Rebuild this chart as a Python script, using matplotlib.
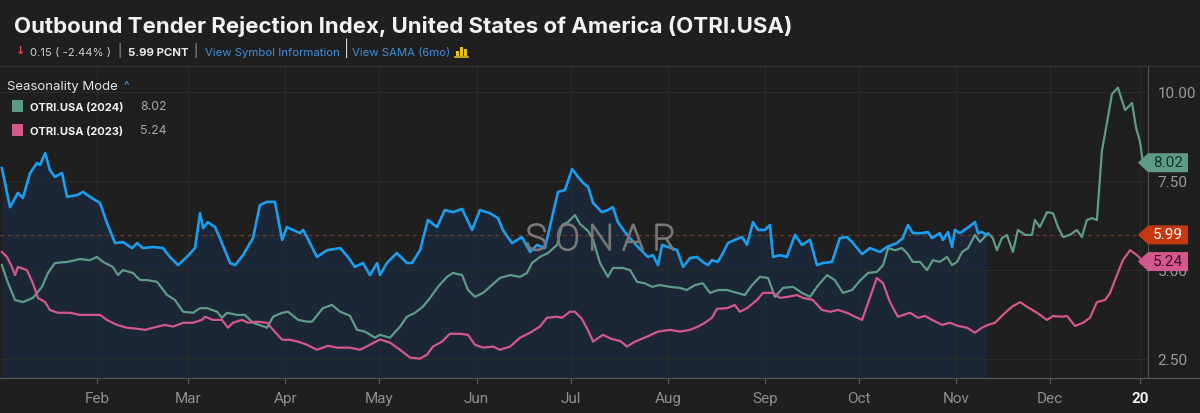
import matplotlib.pyplot as plt
import matplotlib.patheffects as pe
from matplotlib.patches import Polygon, Rectangle
from matplotlib.lines import Line2D
from matplotlib.transforms import IdentityTransform

plt.rcParams['font.family'] = ['Roboto', 'DejaVu Sans']

# day of year (0 = Jan 1) and index value
cur_days = [0.6, 3.2, 5.7, 7.3, 9.6, 11.8, 12.8, 14.4, 15.9, 17.5, 19.8, 21.4, 24.6, 26.5, 28.7,
            31.9, 34.1, 36.7, 39.2, 42.1, 43.7, 45.6, 48.8, 52.0, 54.2, 56.8, 59.6, 62.2, 63.8,
            64.8, 66.3, 68.6, 70.8, 73.4, 75.0, 77.5, 80.7, 82.9, 85.2, 87.7, 90.0, 91.5, 93.5,
            95.7, 96.7, 98.9, 101.1, 104.3, 108.5, 111.0, 113.2, 115.8, 118.0, 120.3, 121.2,
            123.4, 126.6, 129.8, 131.4, 134.0, 136.5, 139.4, 141.9, 144.5, 147.4, 150.6, 153.1,
            156.3, 158.9, 160.4, 163.3, 166.5, 169.1, 171.3, 173.8, 176.1, 178.0, 180.2, 182.5,
            184.4, 186.0, 187.6, 189.2, 192.0, 193.9, 195.5, 197.1, 200.0, 203.5, 206.7, 208.3,
            209.9, 211.2, 213.1, 216.0, 217.9, 220.1, 222.3, 224.2, 225.8, 227.1, 229.0, 230.6,
            232.2, 234.4, 236.7, 238.3, 240.2, 241.8, 244.0, 245.6, 246.6, 248.8, 251.0, 253.6,
            255.8, 258.4, 260.6, 262.5, 265.4, 267.9, 270.2, 272.1, 275.0, 277.5, 280.7, 282.9,
            286.1, 288.0, 289.6, 291.2, 294.1, 296.0, 297.3, 299.8, 300.8, 302.4, 303.7, 304.6,
            306.2, 308.5, 311.0, 312.0, 313.2, 314.8]
cur_vals = [7.87, 6.77, 7.17, 7.03, 7.73, 8.01, 7.96, 8.29, 7.82, 7.62, 7.73, 7.06, 7.11, 7.2, 7.06,
            6.89, 6.33, 5.76, 5.79, 5.62, 5.76, 5.62, 5.65, 5.62, 5.37, 5.14, 5.37, 5.62, 6.6,
            6.18, 6.35, 6.21, 5.76, 5.2, 5.14, 5.42, 5.9, 6.83, 6.92, 6.92, 5.85, 6.21, 6.13,
            6.04, 6.13, 5.76, 5.37, 5.56, 5.62, 5.37, 5.09, 5.2, 4.86, 5.2, 4.86,
            5.2, 5.48, 5.2, 5.2, 5.56, 6.41, 6.21, 6.69, 6.63, 6.72, 6.13, 6.69,
            6.6, 6.46, 6.13, 5.76, 5.93, 5.51, 5.71, 5.62, 6.49, 7.2, 7.25, 7.84,
            7.62, 7.45, 7.34, 6.89, 6.63, 6.69, 6.77, 6.35, 5.99, 5.65, 5.37, 5.42,
            5.14, 5.71, 5.65, 5.56, 5.09, 5.34, 5.37, 5.23, 5.14, 5.28, 5.23, 5.48,
            5.76, 5.85, 5.93, 5.71, 6.35, 6.13, 6.13, 6.27, 5.37, 5.42, 5.37, 5.99,
            5.71, 5.85, 5.14, 5.2, 5.23, 5.9, 5.93, 5.76, 5.45, 5.62, 5.51, 5.65,
            5.76, 5.9, 6.27, 6.04, 6.04, 6.07, 5.9, 6.04, 5.85, 6.07, 5.65, 6.13,
            6.04, 6.18, 6.35, 6.04, 6.07, 5.99]

y2024_days = [0.6, 2.6, 4.8, 7.3, 10.5, 13.4, 15.3, 17.5, 21.4, 25.5, 28.7, 30.9, 32.9, 36.0, 37.6,
              39.2, 42.4, 44.7, 46.9, 50.1, 53.3, 55.8, 58.4, 61.6, 63.8, 66.0, 69.2, 70.8, 72.4,
              75.6, 78.1, 80.7, 85.2, 87.1, 90.0, 91.9, 95.1, 97.9, 99.5, 103.0, 105.9, 108.5,
              111.6, 113.9, 116.4, 119.6, 121.2, 124.4, 127.6, 129.8, 132.4, 134.9, 137.2, 139.7,
              142.6, 144.5, 147.4, 149.3, 151.5, 154.1, 156.9, 159.5, 162.7, 165.9, 168.1, 169.7,
              172.2, 174.8, 177.7, 179.3, 181.2, 183.4, 185.0, 187.6, 189.2, 191.4, 193.9, 195.5,
              198.7, 201.0, 203.2, 205.7, 208.0, 210.5, 213.7, 216.9, 219.1, 221.7, 224.2, 226.5,
              229.0, 231.9, 235.1, 237.6, 239.9, 242.4, 245.0, 247.2, 249.8, 253.0, 255.8, 258.4,
              260.6, 263.8, 266.3, 268.9, 271.8, 274.3, 276.9, 279.7, 281.7, 283.3, 285.5, 287.7,
              289.3, 291.2, 293.5, 295.7, 297.6, 299.8, 302.1, 303.7, 305.3, 306.9, 308.8, 311.0,
              312.6, 315.2, 316.7, 318.0, 319.6, 321.2, 323.1, 324.7, 327.0, 329.2, 330.1, 331.7,
              334.0, 335.9, 337.5, 339.1, 341.3, 343.5, 345.1, 346.7, 348.3, 349.9, 351.5, 353.1,
              354.7, 356.6, 358.9, 361.1, 362.4, 363.6, 364.6]
y2024_vals = [5.14, 4.63, 4.16, 4.1, 4.22, 4.53, 4.92, 5.2, 5.23, 5.31, 5.28, 5.37, 5.23, 5.09, 4.86,
              5.0, 4.92, 4.72, 4.72, 4.67, 4.3, 4.16, 3.83, 3.8, 3.93, 3.93, 3.83, 3.66, 3.8,
              3.74, 3.74, 3.52, 3.38, 3.69, 3.8, 3.83, 3.6, 3.55, 3.55, 3.93, 4.02, 3.83,
              3.72, 3.32, 3.27, 3.1, 3.18, 3.1, 3.41, 3.69, 3.8, 3.97, 4.22, 4.53,
              4.81, 4.92, 4.86, 4.44, 4.25, 4.36, 4.58, 4.78, 4.86, 4.81, 4.92, 5.2,
              5.37, 5.48, 5.71, 6.27, 6.35, 6.55, 6.3, 6.1, 5.85, 5.2, 4.81, 5.06,
              5.06, 5.0, 4.67, 4.63, 4.53, 4.58, 4.53, 4.5, 4.44, 4.58, 4.63, 4.36,
              4.44, 4.44, 4.36, 4.3, 4.58, 4.81, 4.78, 4.25, 4.5, 4.53, 4.36, 4.25,
              4.53, 4.86, 4.72, 4.36, 4.44, 4.7, 4.92, 4.95, 5.14, 5.62, 5.56, 5.62,
              5.48, 5.23, 5.23, 5.0, 5.28, 5.23, 5.37, 5.14, 5.23, 5.51, 5.62, 5.99,
              5.79, 6.04, 5.9, 5.56, 5.9, 5.99, 5.51, 6.13, 5.99, 5.99, 6.41, 6.21,
              6.63, 6.6, 6.21, 5.93, 5.99, 6.13, 5.93, 6.41, 6.46, 6.41, 8.35, 9.14,
              9.95, 10.13, 9.5, 9.7, 9.0, 8.63, 8.02]

y2023_days = [0.6, 2.2, 3.8, 4.8, 5.7, 8.6, 10.5, 12.1, 14.4, 15.9, 18.5, 22.3, 25.5, 28.7, 31.9,
              34.1, 37.3, 40.5, 43.7, 46.3, 48.8, 52.6, 55.2, 58.4, 61.6, 64.4, 65.4, 67.9, 70.8,
              72.7, 74.3, 77.2, 79.1, 82.0, 85.2, 87.1, 90.0, 92.5, 95.1, 97.9, 101.1, 104.6,
              107.5, 111.6, 114.8, 118.0, 121.2, 124.4, 127.6, 130.8, 134.0, 136.2, 138.1, 141.0,
              143.5, 146.7, 149.3, 151.5, 154.1, 157.3, 159.5, 162.7, 165.9, 169.1, 172.2, 174.5,
              177.7, 179.3, 181.8, 183.4, 185.6, 187.6, 189.2, 192.3, 195.2, 197.8, 200.0, 202.6,
              206.4, 209.9, 213.7, 216.9, 220.1, 222.6, 224.9, 227.1, 228.7, 231.9, 234.4, 236.0,
              238.3, 241.5, 243.4, 246.3, 248.8, 251.4, 254.2, 256.1, 259.3, 262.2, 264.8, 267.3,
              270.2, 272.7, 275.0, 276.9, 279.7, 281.7, 283.9, 286.4, 290.3, 292.8, 295.1, 297.3,
              300.5, 303.0, 305.6, 308.5, 311.0, 313.2, 315.2, 317.4, 319.9, 322.8, 325.4, 327.6,
              330.8, 334.0, 335.9, 338.8, 340.4, 342.9, 345.5, 347.7, 349.9, 352.5, 354.1, 356.3,
              358.2, 360.5, 362.7, 364.6]
y2023_vals = [5.51, 5.37, 5.09, 4.86, 5.09, 5.0, 4.63, 4.22, 4.1, 3.88, 3.8, 3.8, 3.74, 3.74, 3.74,
              3.6, 3.46, 3.38, 3.35, 3.32, 3.38, 3.46, 3.41, 3.52, 3.52, 3.6, 3.69, 3.6, 3.6,
              3.38, 3.52, 3.6, 3.52, 3.55, 3.52, 3.32, 3.04, 3.04, 2.99, 2.9, 2.76, 2.87,
              2.82, 2.82, 2.76, 2.9, 3.05, 2.96, 2.76, 2.54, 2.51, 2.62, 2.85, 2.99,
              3.21, 3.21, 3.18, 2.9, 2.82, 2.85, 2.76, 2.85, 3.1, 3.24, 3.41, 3.66,
              3.69, 3.66, 3.83, 3.83, 3.63, 3.3, 2.99, 3.18, 3.06, 3.01, 2.85, 2.99,
              3.13, 3.27, 3.32, 3.27, 3.32, 3.41, 3.52, 3.66, 3.91, 3.93, 4.02, 3.83,
              3.93, 4.16, 4.36, 4.36, 4.22, 4.25, 4.3, 4.22, 4.16, 3.88, 3.83, 3.88,
              3.8, 3.69, 3.6, 4.08, 4.78, 4.63, 4.1, 3.69, 3.8, 3.66, 3.71, 3.6,
              3.46, 3.52, 3.43, 3.38, 3.24, 3.38, 3.46, 3.52, 3.74, 3.97, 4.1, 3.97,
              3.8, 3.6, 3.71, 3.69, 3.71, 3.43, 3.52, 3.66, 4.1, 4.16, 4.36, 4.86,
              5.28, 5.56, 5.42, 5.24]

month_days = [31, 60, 91, 121, 152, 182, 213, 244, 274, 305, 335, 363.6]
month_labels = ['Feb', 'Mar', 'Apr', 'May', 'Jun', 'Jul', 'Aug', 'Sep', 'Oct', 'Nov', 'Dec', '20']
y_ticks = [2.5, 5.0, 7.5, 10.0]

BG = '#1f1f1f'
BLUE = '#1a9ff0'
GREEN = '#5f9c88'
PINK = '#d4588b'
LINK = '#3d8fd8'
HEAD = ['Inter', 'DejaVu Sans']
W, H = 1200, 413


def fx(x):
    return x / W


def fy(y):
    return 1 - y / H


fig = plt.figure(figsize=(12, 4.13), dpi=100, facecolor=BG)
ax = fig.add_axes([0, fy(378), fx(1148), fy(66) - fy(378)])
ax.set_facecolor(BG)
ax.set_xlim(0, 366.2)
ax.set_ylim(1.966, 10.74)

ax.fill_between(cur_days, cur_vals, 1.966, color='#1b2636', lw=0, zorder=1)
ax.axhline(cur_vals[-1], color='#74392a', lw=0.9, ls=(0, (3, 3)), zorder=2)
ax.plot(y2024_days, y2024_vals, color=GREEN, lw=1.6, zorder=3)
ax.plot(y2023_days, y2023_vals, color=PINK, lw=1.6, zorder=3)
ax.plot(cur_days, cur_vals, color=BLUE, lw=1.9, zorder=4)

ax.set_xticks(month_days)
ax.set_xticklabels(month_labels)
ax.set_yticks(y_ticks)
ax.set_yticklabels(['%.2f' % v for v in y_ticks])
ax.yaxis.tick_right()
ax.tick_params(axis='y', length=0, pad=7, labelsize=11, labelcolor='#9a9a9a')
ax.tick_params(axis='x', length=4, color='#5a5a5a', pad=6, labelsize=11, labelcolor='#8f8f8f')
lbl = ax.get_xticklabels()[-1]
lbl.set_color('#f0f0f0')
lbl.set_fontweight('bold')
ax.grid(color='#2b2b2b', lw=0.8, zorder=0)
for s in ['top', 'left', 'bottom']:
    ax.spines[s].set_visible(False)
ax.spines['right'].set_color('#555555')

# header / frame lines
fig.add_artist(Line2D([0, 1], [fy(66), fy(66)], color='#353535', lw=0.8))
fig.add_artist(Line2D([0, 1], [fy(378), fy(378)], color='#555555', lw=0.9))

fig.text(fx(14), fy(32.7), 'Outbound Tender Rejection Index, United States of America (OTRI.USA)',
         color='#f2f2f2', fontsize=16, fontweight='bold', va='baseline', family=HEAD)
sub_y = fy(56)
fig.text(fx(16), fy(51), '↓', color='#e0474c', fontsize=8, fontweight='bold', va='center',
         family='DejaVu Sans')
fig.text(fx(30), sub_y, '0.15 ( -2.44% )', color='#cfcfcf', fontsize=8.2, va='baseline', family=HEAD)
fig.text(fx(117), sub_y + 0.003, '|', color='#9a9a9a', fontsize=9.5, va='baseline', family=HEAD)
fig.text(fx(128), sub_y, '5.99 PCNT', color='#e8e8e8', fontsize=8.2, fontweight='bold',
         va='baseline', family=HEAD)
fig.text(fx(193), sub_y + 0.003, '|', color='#9a9a9a', fontsize=9.5, va='baseline', family=HEAD)
fig.text(fx(205), sub_y, 'View Symbol Information', color=LINK, fontsize=8.2, va='baseline',
         family=HEAD)
fig.text(fx(344), sub_y + 0.005, '|', color='#d0d0d0', fontsize=11, va='baseline', family=HEAD)
fig.text(fx(352), sub_y, 'View SAMA (6mo)', color=LINK, fontsize=8.2, va='baseline', family=HEAD)
for i, hgt in enumerate([5, 9, 7]):
    fig.add_artist(Rectangle((fx(456 + i * 4), fy(56)), fx(2.5), hgt / H, color='#e8c21a', lw=0))
fig.add_artist(Line2D([fx(455), fx(468)], [fy(57), fy(57)], color='#e8c21a', lw=1.2))

# legend block
fig.text(fx(7), fy(90), 'Seasonality Mode', color='#e4e4e4', fontsize=9.5, va='baseline',
         family=HEAD)
fig.text(fx(124), fy(90), '^', color=LINK, fontsize=8.5, va='baseline', family=HEAD)
legend_rows = [('OTRI.USA (2024)', y2024_vals[-1], GREEN, 110.5),
               ('OTRI.USA (2023)', y2023_vals[-1], PINK, 134.5)]
for name, val, col, yy in legend_rows:
    fig.add_artist(Rectangle((fx(12), fy(yy + 1)), fx(11), 11 / H, color=col, lw=0))
    fig.text(fx(30), fy(yy), name, color='#f2f2f2', fontsize=8.0, fontweight='bold',
             va='baseline', family=HEAD)
    fig.text(fx(140), fy(yy), '%.2f' % val, color='#a8a8a8', fontsize=8.8, va='baseline',
             family=HEAD)

# watermark
fig.text(fx(601), fy(240), 'S O N A R', color='none', fontsize=26, fontweight='light',
         ha='center', va='center', zorder=6,
         path_effects=[pe.withStroke(linewidth=1.2, foreground='#777777')])


# value tags on the right axis
def tag(val, face, txt_color):
    yc = ax.transData.transform((0, val))[1]
    verts = [(1138, yc), (1148, yc + 9.5), (1188, yc + 9.5), (1188, yc - 9.5), (1148, yc - 9.5)]
    fig.add_artist(Polygon(verts, closed=True, transform=IdentityTransform(),
                           fc=face, ec='none', zorder=7))
    fig.text(fx(1168), yc / H, '%.2f' % val, color=txt_color, fontsize=11,
             ha='center', va='center', zorder=8)


tag(y2024_vals[-1], GREEN, '#12332a')
tag(cur_vals[-1], '#c8380f', '#ffffff')
tag(y2023_vals[-1], PINK, '#3a0c1e')

fig.savefig('out.png', dpi=100, facecolor=BG)
